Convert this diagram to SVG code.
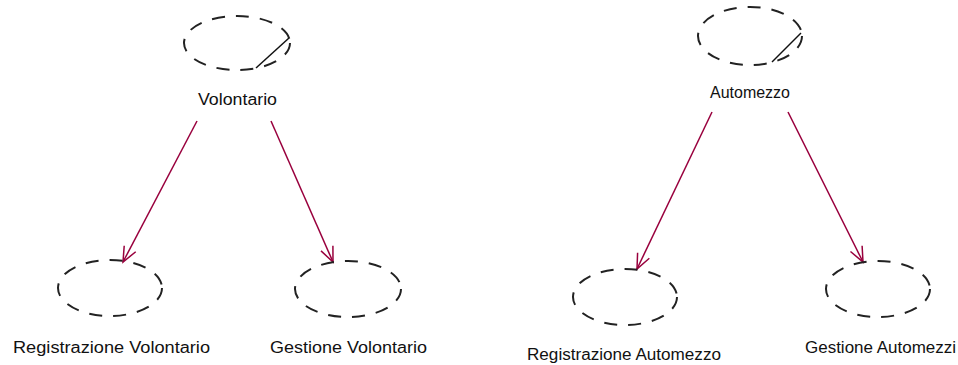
<svg xmlns="http://www.w3.org/2000/svg" width="958" height="365" viewBox="0 0 958 365">
<style>
.uc{fill:none;stroke:#222;stroke-width:2;stroke-dasharray:13 11}
.diag{stroke:#111;stroke-width:1.5}
.lbl{font-family:"Liberation Sans",Arial,sans-serif;font-size:16px;fill:#111}
.edge{fill:none;stroke:#99003d;stroke-width:1.5}
</style>
<defs>
<marker id="arr" markerUnits="userSpaceOnUse" markerWidth="20" markerHeight="20" viewBox="-16 -10 20 20" refX="0" refY="0" orient="auto">
<path d="M-15,-6.5 L0,0 L-15,6.5" fill="none" stroke="#99003d" stroke-width="1.5"/>
</marker>
</defs>
<rect width="958" height="365" fill="#fff"/>
<g id="connectors">
<line class="edge" x1="197" y1="121" x2="123" y2="262" marker-end="url(#arr)"/>
<line class="edge" x1="271" y1="121" x2="333" y2="262" marker-end="url(#arr)"/>
<line class="edge" x1="712" y1="112" x2="637" y2="269" marker-end="url(#arr)"/>
<line class="edge" x1="788" y1="112" x2="863" y2="262" marker-end="url(#arr)"/>
</g>
<g id="volontario">
<ellipse class="uc" cx="237" cy="43" rx="53" ry="27"/>
<line class="diag" x1="289" y1="38" x2="256" y2="68"/>
<text class="lbl" x="198" y="105" textLength="79" lengthAdjust="spacingAndGlyphs">Volontario</text>
</g>
<g id="automezzo">
<ellipse class="uc" cx="750" cy="36" rx="52" ry="29"/>
<line class="diag" x1="801" y1="33" x2="772" y2="62"/>
<text class="lbl" x="710" y="98" textLength="80" lengthAdjust="spacingAndGlyphs">Automezzo</text>
</g>
<g id="registrazione-volontario">
<ellipse class="uc" cx="110" cy="288" rx="52" ry="28"/>
<text class="lbl" x="13" y="353" textLength="197" lengthAdjust="spacingAndGlyphs">Registrazione Volontario</text>
</g>
<g id="gestione-volontario">
<ellipse class="uc" cx="348" cy="289" rx="53" ry="28"/>
<text class="lbl" x="270" y="353" textLength="157" lengthAdjust="spacingAndGlyphs">Gestione Volontario</text>
</g>
<g id="registrazione-automezzo">
<ellipse class="uc" cx="625" cy="297" rx="52" ry="28"/>
<text class="lbl" x="527" y="360" textLength="194" lengthAdjust="spacingAndGlyphs">Registrazione Automezzo</text>
</g>
<g id="gestione-automezzi">
<ellipse class="uc" cx="878" cy="289" rx="52" ry="28"/>
<text class="lbl" x="805" y="353" textLength="151" lengthAdjust="spacingAndGlyphs">Gestione Automezzi</text>
</g>
</svg>
